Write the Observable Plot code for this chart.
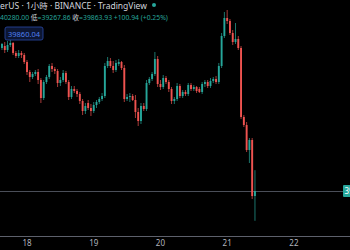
<!DOCTYPE html>
<html><head><meta charset="utf-8">
<script src="https://cdn.jsdelivr.net/npm/d3@7"></script>
<script src="https://cdn.jsdelivr.net/npm/@observablehq/plot@0.6"></script>
<style>html,body{margin:0;padding:0;background:#000;overflow:hidden}</style>
</head><body><div id="chart"></div>
<script>
// Hourly candles, BINANCE, starting 17th 15:00
const startTime = "2022-01-17T15:00:00Z";
const openP = [42724,42764,42684,42784,42824,42624,42564,42624,42584,42444,42244,42144,42204,42244,42084,41724,42044,42144,42364,42304,42264,42024,42084,42224,42044,41744,41904,41864,41804,41664,41464,41624,41524,41464,41584,41644,41704,41764,42364,42464,42364,42284,42404,42444,42324,41704,41744,41764,41684,41444,41264,41564,41504,42024,42104,42204,42504,42004,41944,42124,42044,41904,41664,41704,41964,41764,41844,41804,41984,41904,41944,41904,41844,42004,42044,41964,42064,42104,42044,42364,42964,43324,43264,43024,42844,42904,42724,41344,41184,40684,40884,39763];
const highP = [42824,42844,42864,42884,42844,42664,42684,42664,42624,42484,42284,42244,42284,42304,42124,42084,42184,42404,42424,42344,42304,42144,42284,42264,42084,41964,41964,41904,41844,41704,41624,41684,41604,41644,41684,41744,41824,42424,42544,42524,42464,42484,42504,42464,42384,41804,41824,41804,41784,41524,41624,41624,42084,42144,42244,42644,42564,42084,42184,42164,42084,41944,41744,42024,42004,41884,41884,42024,42024,41984,41964,41944,42044,42084,42084,42124,42144,42164,42424,43024,43444,43484,43304,43084,43224,42964,42764,41384,41244,40924,40924,40280];
const lowP = [42684,42624,42644,42744,42584,42524,42524,42524,42404,42184,42044,42104,42164,42004,41624,41684,42004,42104,42244,42204,41944,41964,42044,42004,41684,41704,41824,41744,41604,41384,41404,41484,41364,41424,41524,41604,41664,41724,42324,42324,42224,42244,42364,42284,41644,41664,41644,41664,41324,41164,41204,41464,41464,41984,42064,42164,41944,41884,41904,42004,41844,41604,41604,41664,41724,41724,41764,41764,41864,41864,41824,41824,41804,41944,41924,41924,42024,42004,42004,42324,42924,43204,42984,42784,42804,42684,41304,41144,40644,40424,39704,39267.86];
const closeP = [42804,42684,42784,42824,42624,42564,42624,42584,42444,42244,42144,42204,42244,42084,41724,42044,42144,42364,42304,42264,42024,42084,42224,42044,41744,41904,41864,41804,41664,41464,41564,41524,41464,41584,41644,41704,41764,42364,42464,42364,42284,42424,42444,42324,41704,41744,41764,41684,41444,41264,41564,41504,42024,42104,42204,42504,42004,41944,42124,42044,41904,41664,41704,41964,41764,41844,41804,41984,41904,41944,41864,41844,42004,42044,41964,42064,42104,42044,42364,42964,43324,43264,43024,42844,42904,42724,41344,41184,40684,40884,39763,39863.93];
const dayTicks = ["2022-01-18T00:00:00Z","2022-01-19T00:00:00Z","2022-01-20T00:00:00Z","2022-01-21T00:00:00Z","2022-01-22T00:00:00Z"];
const dayLabels = ["18","19","20","21","22"];
const titleText = "erUS · 1小時 · BINANCE · TradingView";
const ohlcParts = [["40280.00 ","g"],["低","w"],["=39267.86 ","g"],["收","w"],["=39863.93 +100.94 (+0.25%)","g"]];
const crossLabel = "39860.04";
const lastPriceLabel = "39863.93";

const GREEN = "#26a69a", RED = "#ef5350";
const t0 = Date.parse(startTime);
const rows = openP.map((o, i) => ({
  t: new Date(t0 + i * 3600e3), o, h: highP[i], l: lowP[i], c: closeP[i],
  col: closeP[i] >= o ? GREEN : RED
}));
const lastClose = closeP[closeP.length - 1];

const plot = Plot.plot({
  width: 350, height: 250,
  marginTop: 0, marginLeft: 0, marginRight: 0, marginBottom: 14,
  style: {background: "#000", color: "#b2b5be", fontSize: "8px", fontFamily: "'Noto Sans','Noto Sans CJK TC',sans-serif"},
  x: {type: "utc", domain: [new Date("2022-01-17T14:28:00Z"), new Date("2022-01-22T20:22:00Z")], label: null},
  y: {domain: [38964, 43684], axis: null},
  color: {type: "identity"},
  marks: [
    Plot.ruleY([lastClose], {stroke: "#4a4e58", strokeWidth: 1}),
    Plot.ruleX(rows, {x: "t", y1: "l", y2: "h", stroke: "col", strokeWidth: 1, strokeOpacity: 0.7}),
    Plot.ruleX(rows, {x: "t", y1: "o", y2: "c", stroke: "col", strokeWidth: 1.9}),
    Plot.frame({anchor: "bottom", stroke: "#5d606b"}),
    Plot.axisX({ticks: dayTicks.map(d => new Date(d)), tickFormat: (d, i) => dayLabels[i], tickSize: 0, tickPadding: 4, fill: "#b2b5be", label: null})
  ]
});
document.getElementById("chart").append(plot);

const svg = d3.select(plot);
const font = "'Noto Sans','Noto Sans CJK TC',sans-serif";
const g = svg.append("g").attr("text-anchor", "start").attr("font-family", font);
g.append("text").attr("x", 0).attr("y", 9).attr("font-size", 8.5)
  .attr("fill", "#d1d4dc").text(titleText);
g.append("circle").attr("cx", 154).attr("cy", 5).attr("r", 2).attr("fill", GREEN);
const l2 = g.append("text").attr("x", 0).attr("y", 20).attr("font-size", 6.8);
ohlcParts.forEach(([s, k]) => l2.append("tspan").attr("fill", k === "g" ? GREEN : "#d1d4dc").text(s));
g.append("rect").attr("x", 5).attr("y", 27).attr("width", 38).attr("height", 13).attr("rx", 2)
  .attr("fill", "#0c1633").attr("stroke", "#2a4aa8").attr("stroke-width", 0.8);
g.append("text").attr("x", 24).attr("y", 36.5).attr("text-anchor", "middle").attr("font-size", 7.5)
  .attr("fill", "#4f7ff0").text(crossLabel);
const yPx = plot.scale("y").apply(lastClose);
g.append("rect").attr("x", 343).attr("y", yPx - 6).attr("width", 12).attr("height", 12).attr("rx", 1).attr("fill", GREEN);
g.append("text").attr("x", 344.5).attr("y", yPx + 3).attr("font-size", 8)
  .attr("fill", "#ffffff").text(lastPriceLabel);
</script></body></html>
